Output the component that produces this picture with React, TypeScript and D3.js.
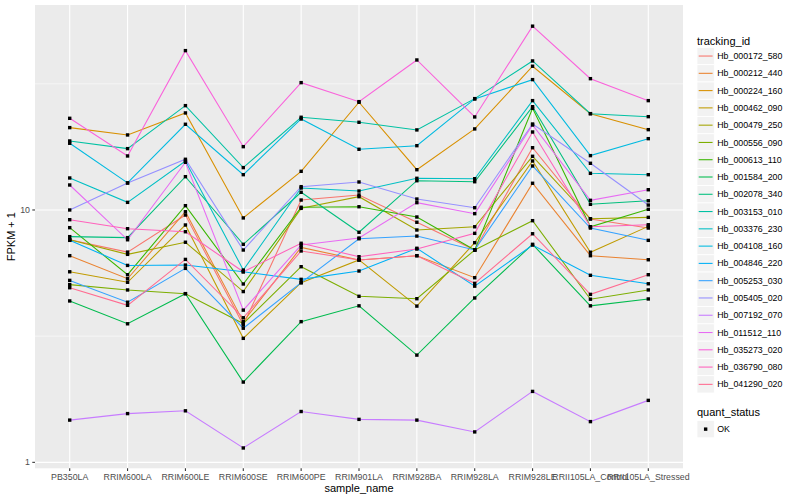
import React from "react";
import * as d3 from "d3";

/* DATA */
const samples = [
  "PB350LA", "RRIM600LA", "RRIM600LE", "RRIM600SE", "RRIM600PE", "RRIM901LA",
  "RRIM928BA", "RRIM928LA", "RRIM928LE", "RRII105LA_Control", "RRII105LA_Stressed",
];

const trackingIds = [
  "Hb_000172_580", "Hb_000212_440", "Hb_000224_160", "Hb_000462_090", "Hb_000479_250",
  "Hb_000556_090", "Hb_000613_110", "Hb_001584_200", "Hb_002078_340", "Hb_003153_010",
  "Hb_003376_230", "Hb_004108_160", "Hb_004846_220", "Hb_005253_030", "Hb_005405_020",
  "Hb_007192_070", "Hb_011512_110", "Hb_035273_020", "Hb_036790_080", "Hb_041290_020",
];

// ggplot hue palette, 20 levels
const hueColors = [
  "#F8766D", "#EA8331", "#D89000", "#C09B00", "#A3A500", "#7CAE00", "#39B600",
  "#00BB4E", "#00BF7D", "#00C1A3", "#00BFC4", "#00BAE0", "#00B0F6", "#35A2FF",
  "#9590FF", "#C77CFF", "#E76BF3", "#FA62DB", "#FF62BC", "#FF6C91",
];

// FPKM + 1 per sample, one array per gene
const hb000172 = [7.62, 6.81, 9.55, 3.5, 10.95, 11.47, 8.94, 6.94, 17.65, 9.21, 8.48];
const hb000212 = [6.59, 5.34, 9.84, 3.61, 7.11, 6.34, 6.59, 5.39, 12.76, 6.59, 6.35];
const hb000224 = [21.2, 19.83, 24.24, 9.3, 14.23, 26.72, 14.44, 20.95, 37.12, 24.08, 20.81];
const hb000462 = [5.69, 5.17, 8.72, 3.1, 5.15, 6.34, 4.16, 7.42, 15.64, 6.8, 8.61];
const hb000479 = [7.62, 6.67, 7.45, 4.75, 10.15, 11.29, 8.33, 8.58, 16.32, 9.23, 9.35];
const hb000556 = [5.06, 4.82, 4.66, 3.55, 5.96, 4.55, 4.45, 6.94, 9.07, 4.43, 4.82];
const hb000613 = [8.51, 5.54, 10.4, 5.09, 10.25, 10.3, 9.38, 6.94, 25.29, 8.58, 10.06];
const hb001584 = [4.36, 3.54, 4.66, 2.08, 3.61, 4.17, 2.66, 4.48, 7.31, 4.17, 4.44];
const hb002078 = [7.84, 7.77, 13.55, 7.31, 11.75, 8.16, 13.06, 12.94, 25.66, 10.53, 10.88];
const hb003153 = [18.77, 17.5, 25.91, 14.72, 23.3, 22.26, 20.76, 27.62, 38.96, 24.08, 23.43];
const hb003376 = [13.39, 10.72, 15.64, 5.78, 12.22, 11.89, 13.35, 13.3, 27.12, 13.97, 13.8];
const hb004108 = [18.38, 12.8, 21.86, 13.8, 22.94, 17.4, 17.98, 27.54, 32.85, 16.42, 19.17];
const hb004846 = [7.58, 6.03, 6.05, 5.69, 5.31, 5.73, 7.05, 4.99, 7.26, 5.51, 5.1];
const hb005253 = [5.26, 4.31, 5.87, 3.4, 5.15, 7.69, 7.88, 6.94, 14.94, 8.48, 7.58];
const hb005405 = [10.0, 12.79, 15.88, 6.94, 12.37, 12.91, 11.05, 10.21, 21.91, 15.31, 10.46];
const hb007192 = [1.47, 1.56, 1.6, 1.14, 1.59, 1.48, 1.47, 1.32, 1.91, 1.45, 1.76];
const hb011512 = [12.56, 7.62, 15.45, 4.01, 7.26, 7.74, 10.69, 9.67, 21.71, 10.92, 12.03];
const hb035273 = [23.08, 16.37, 42.8, 17.82, 31.96, 26.87, 39.3, 23.37, 53.5, 33.14, 27.12];
const hb036790 = [9.15, 8.43, 8.2, 5.69, 7.38, 6.53, 7.0, 8.08, 20.37, 8.58, 8.74];
const hb041290 = [4.92, 4.19, 6.37, 3.74, 6.88, 6.34, 6.59, 5.12, 8.05, 4.63, 5.54];

const seriesValues = [
  hb000172, hb000212, hb000224, hb000462, hb000479, hb000556, hb000613, hb001584,
  hb002078, hb003153, hb003376, hb004108, hb004846, hb005253, hb005405, hb007192,
  hb011512, hb035273, hb036790, hb041290,
];

const yTicks = [1, 10];
const yMinor = [Math.sqrt(10), Math.sqrt(1000)];

/* LAYOUT */
const W = 800;
const H = 500;
const panel = { left: 35, right: 683, top: 5, bottom: 468.3 };
const font = "'Liberation Sans', Arial, Helvetica, sans-serif";

function App() {
  const x = d3
    .scalePoint<string>()
    .domain(samples)
    .range([panel.left, panel.right])
    .padding(0.6);

  const y = d3
    .scaleLog()
    .domain([0.947, 64.9])
    .range([panel.bottom, panel.top]);

  const line = d3
    .line<number>()
    .x((_d, i) => x(samples[i]) as number)
    .y((d) => y(d));

  const keyH = 17.28;
  const keyTop = 47.4;
  const legendX = 697;

  return (
    <div style={{ position: "absolute", left: 0, top: 0 }}>
      <svg width={W} height={H} style={{ display: "block", background: "#fff" }} fontFamily={font}>
        {/* panel */}
        <rect
          x={panel.left}
          y={panel.top}
          width={panel.right - panel.left}
          height={panel.bottom - panel.top}
          fill="#EBEBEB"
        />
        {yMinor.map((t) => (
          <line key={"mn" + t} x1={panel.left} x2={panel.right} y1={y(t)} y2={y(t)} stroke="#fff" strokeWidth={0.55} />
        ))}
        {yTicks.map((t) => (
          <line key={"mj" + t} x1={panel.left} x2={panel.right} y1={y(t)} y2={y(t)} stroke="#fff" strokeWidth={1.1} />
        ))}
        {samples.map((s) => (
          <line key={"vx" + s} x1={x(s)} x2={x(s)} y1={panel.top} y2={panel.bottom} stroke="#fff" strokeWidth={1.1} />
        ))}

        {/* lines */}
        {seriesValues.map((vals, i) => (
          <path key={"l" + i} d={line(vals) as string} fill="none" stroke={hueColors[i]} strokeWidth={1.07} />
        ))}

        {/* points */}
        {seriesValues.map((vals, i) =>
          vals.map((v, j) => (
            <rect
              key={"p" + i + "_" + j}
              x={(x(samples[j]) as number) - 1.7}
              y={y(v) - 1.7}
              width={3.4}
              height={3.4}
              fill="#000"
            />
          ))
        )}

        {/* y axis */}
        {yTicks.map((t) => (
          <g key={"yt" + t}>
            <line x1={panel.left - 2.7} x2={panel.left} y1={y(t)} y2={y(t)} stroke="#333" strokeWidth={1.07} />
            <text x={panel.left - 5} y={y(t)} dy="0.35em" textAnchor="end" fontSize={8.8} fill="#4D4D4D">
              {t}
            </text>
          </g>
        ))}
        <text
          transform={`translate(15,${(panel.top + panel.bottom) / 2}) rotate(-90)`}
          textAnchor="middle"
          fontSize={11}
          fill="#000"
        >
          FPKM + 1
        </text>

        {/* x axis */}
        {samples.map((s) => (
          <g key={"xt" + s}>
            <line x1={x(s)} x2={x(s)} y1={panel.bottom} y2={panel.bottom + 2.7} stroke="#333" strokeWidth={1.07} />
            <text x={x(s)} y={panel.bottom + 12} textAnchor="middle" fontSize={8.8} fill="#4D4D4D">
              {s}
            </text>
          </g>
        ))}
        <text x={(panel.left + panel.right) / 2} y={492} textAnchor="middle" fontSize={11} fill="#000">
          sample_name
        </text>

        {/* legend: tracking_id */}
        <text x={legendX} y={44.5} fontSize={11} fill="#000">
          tracking_id
        </text>
        {trackingIds.map((id, i) => {
          const ky = keyTop + i * keyH;
          return (
            <g key={"lg" + id}>
              <rect x={legendX} y={ky} width={keyH} height={keyH} fill="#F2F2F2" stroke="#fff" strokeWidth={0.8} />
              <line
                x1={legendX + 1.7}
                x2={legendX + keyH - 1.7}
                y1={ky + keyH / 2}
                y2={ky + keyH / 2}
                stroke={hueColors[i]}
                strokeWidth={1.07}
              />
              <text x={legendX + keyH + 3} y={ky + keyH / 2} dy="0.35em" fontSize={8.8} fill="#000">
                {id}
              </text>
            </g>
          );
        })}

        {/* legend: quant_status */}
        <text x={legendX} y={416} fontSize={11} fill="#000">
          quant_status
        </text>
        <rect x={legendX} y={420.5} width={keyH} height={keyH} fill="#F2F2F2" stroke="#fff" strokeWidth={0.8} />
        <rect x={legendX + keyH / 2 - 1.7} y={420.5 + keyH / 2 - 1.7} width={3.4} height={3.4} fill="#000" />
        <text x={legendX + keyH + 3} y={420.5 + keyH / 2} dy="0.35em" fontSize={8.8} fill="#000">
          OK
        </text>
      </svg>
    </div>
  );
}

export default App;
